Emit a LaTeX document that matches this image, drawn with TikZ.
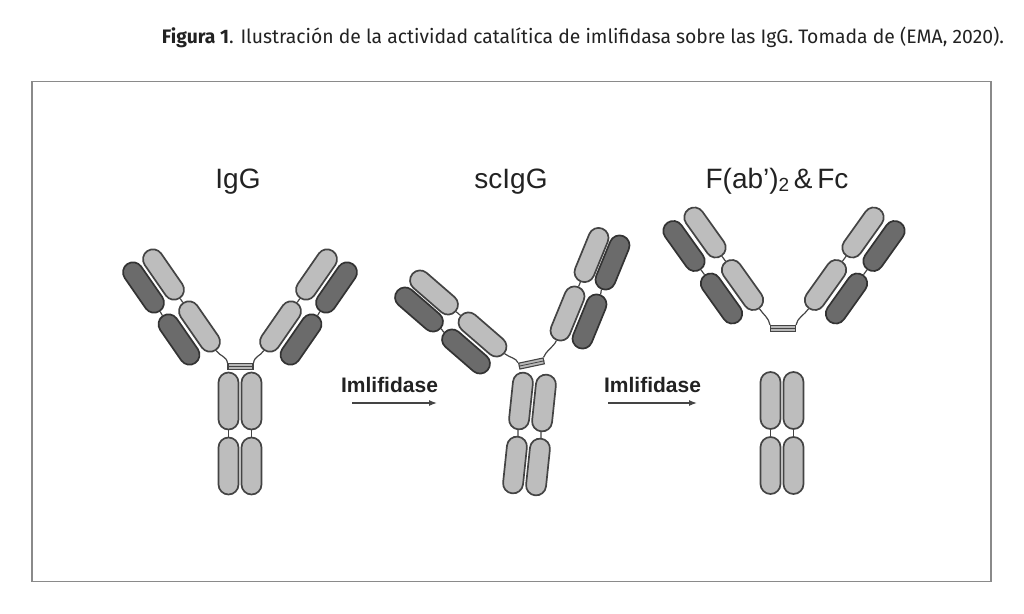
\documentclass[tikz,border=0pt]{standalone}
\usepackage{fontspec}
\setmainfont{Liberation Sans}
\newfontfamily\capfont{Fira Sans}
\usetikzlibrary{shapes.misc,arrows.meta}
\definecolor{lightg}{HTML}{BDBDBD}
\definecolor{darkg}{HTML}{6B6B6B}
\definecolor{pline}{HTML}{444444}
\definecolor{pline2}{HTML}{333333}
\definecolor{barfill}{HTML}{B8B8B8}
\definecolor{framec}{HTML}{8A8A8A}
\definecolor{txtc}{HTML}{222222}
\tikzset{
  pillL/.style={rounded rectangle, draw=pline, fill=lightg, line width=1.7pt,
    minimum width=57pt, minimum height=20pt, inner sep=0pt},
  pillD/.style={pillL, fill=darkg, draw=pline2},
  link/.style={draw=pline, line width=1.2pt},
  hingebar/.style={rectangle, draw=pline, fill=barfill, line width=1.1pt,
    minimum width=25pt, minimum height=6pt, inner sep=0pt},
  title/.style={anchor=base, text=txtc, font=\fontsize{28}{28}\selectfont},
  enz/.style={anchor=base, text=txtc, font=\bfseries\fontsize{21}{21}\selectfont},
  arr/.style={draw=pline, line width=1.3pt, -{Latex[length=8pt,width=6pt]}},
}
\begin{document}
\begin{tikzpicture}[x=1pt,y=-1pt]
\useasboundingbox (0,0) rectangle (1024,613);
% caption
\node[anchor=base, text=txtc, inner sep=0pt] (cap) at (583,43)
  {\resizebox{842pt}{\height}{\capfont\fontsize{19.5}{19.5}\selectfont\textbf{Figura 1}. Ilustración de la actividad catalítica de imlifidasa sobre las IgG. Tomada de (EMA, 2020).}};
% frame
\node[draw=framec, line width=1.5pt, minimum width=959pt, minimum height=500pt, inner sep=0pt] (frame) at (511.5,331.5) {};

% titles
\node[title] (tIgG) at (238,188) {IgG};
\node[title] (tsc) at (511,188) {scIgG};
\node[title] (tfab) at (777,188) {F(ab’){\fontsize{19}{19}\selectfont\raisebox{-3pt}{2}}\,\&\,Fc};

% ===== IgG =====
\node[pillL, rotate=124.7] (gLL1) at (199.5,326.5) {};
\node[pillL, rotate=124.7] (gLL2) at (163.5,274.5) {};
\node[pillD, rotate=124.7] (gLD1) at (179,339.5) {};
\node[pillD, rotate=124.7] (gLD2) at (143.5,287.5) {};
\node[pillL, rotate=55.3] (gRL1) at (280.5,326.5) {};
\node[pillL, rotate=55.3] (gRL2) at (316.5,274.5) {};
\node[pillD, rotate=55.3] (gRD1) at (301,339.5) {};
\node[pillD, rotate=55.3] (gRD2) at (336.5,287.5) {};
\node[hingebar] (gbar) at (240.5,366.5) {};
\draw[pline, line width=0.8pt] (gbar.west) -- (gbar.east);
\node[pillL, rotate=90] (gFU1) at (228.5,401) {};
\node[pillL, rotate=90] (gFU2) at (251.5,401) {};
\node[pillL, rotate=90] (gFB1) at (228.5,466) {};
\node[pillL, rotate=90] (gFB2) at (251.5,466) {};
\draw[link] (gLL1.east) -- (gLL2.west);
\draw[link] (gLD1.east) -- (gLD2.west);
\draw[link] (gRL1.east) -- (gRL2.west);
\draw[link] (gRD1.east) -- (gRD2.west);
\draw[link] (gFU1.west) -- (gFB1.east);
\draw[link] (gFU2.west) -- (gFB2.east);
\draw[link] (gbar.north west) .. controls +(-1,-7) and +(4,6) .. (gLL1.west);
\draw[link] (gbar.north east) .. controls +(1,-7) and +(-4,6) .. (gRL1.west);

% arrow 1
\node[enz] (e1) at (389.5,392) {Imlifidase};
\coordinate (a1s) at (352,403);
\coordinate (a1e) at (437,403);
\draw[arr] (a1s) -- (a1e);

% ===== scIgG =====
\node[pillL, rotate=139.1] (sLL1) at (482.5,334.5) {};
\node[pillL, rotate=139.1] (sLL2) at (434,292.5) {};
\node[pillD, rotate=139.1] (sLD1) at (466,351.5) {};
\node[pillD, rotate=139.1] (sLD2) at (419,309.5) {};
\node[pillL, rotate=67.7] (sRL1) at (567.5,313.5) {};
\node[pillL, rotate=67.7] (sRL2) at (591.5,255) {};
\node[pillD, rotate=67.7] (sRD1) at (589.5,321.5) {};
\node[pillD, rotate=67.7] (sRD2) at (612.5,262.5) {};
\node[hingebar, rotate=12] (sbar) at (531.5,363.5) {};
\draw[pline, line width=0.8pt] (sbar.west) -- (sbar.east);
\node[pillL, rotate=84] (sFU1) at (521,401) {};
\node[pillL, rotate=84] (sFU2) at (544,403) {};
\node[pillL, rotate=84] (sFB1) at (515,465) {};
\node[pillL, rotate=84] (sFB2) at (538,467) {};
\draw[link] (sLL1.east) -- (sLL2.west);
\draw[link] (sLD1.east) -- (sLD2.west);
\draw[link] (sRL1.east) -- (sRL2.west);
\draw[link] (sRD1.east) -- (sRD2.west);
\draw[link] (sFU1.west) -- (sFB1.east);
\draw[link] (sFU2.west) -- (sFB2.east);
\draw[link] (sbar.north west) .. controls +(-2,-5) and +(5,4) .. (sLL1.west);
\draw[link] (sbar.north east) .. controls +(2,-6) and +(-2.5,6) .. (sRL1.west);

% arrow 2
\node[enz] (e2) at (652.5,392) {Imlifidase};
\coordinate (a2s) at (608,403);
\coordinate (a2e) at (697,403);
\draw[arr] (a2s) -- (a2e);

% ===== F(ab')2 & Fc =====
\node[pillL, rotate=125.5] (fLL1) at (742.5,285) {};
\node[pillL, rotate=125.5] (fLL2) at (705,232.5) {};
\node[pillD, rotate=125.5] (fLD1) at (721.5,298.5) {};
\node[pillD, rotate=125.5] (fLD2) at (684,246) {};
\node[pillL, rotate=54.5] (fRL1) at (825.5,285) {};
\node[pillL, rotate=54.5] (fRL2) at (863,232.5) {};
\node[pillD, rotate=54.5] (fRD1) at (846.5,298.5) {};
\node[pillD, rotate=54.5] (fRD2) at (884,246) {};
\node[hingebar] (fbar) at (783,328.5) {};
\draw[pline, line width=0.8pt] (fbar.west) -- (fbar.east);
\node[pillL, rotate=90] (fFU1) at (770.5,400.5) {};
\node[pillL, rotate=90] (fFU2) at (793.5,400.5) {};
\node[pillL, rotate=90] (fFB1) at (770.5,465.5) {};
\node[pillL, rotate=90] (fFB2) at (793.5,465.5) {};
\draw[link] (fLL1.east) -- (fLL2.west);
\draw[link] (fLD1.east) -- (fLD2.west);
\draw[link] (fRL1.east) -- (fRL2.west);
\draw[link] (fRD1.east) -- (fRD2.west);
\draw[link] (fFU1.west) -- (fFB1.east);
\draw[link] (fFU2.west) -- (fFB2.east);
\draw[link] (fbar.north west) .. controls +(-1,-7) and +(4,6) .. (fLL1.west);
\draw[link] (fbar.north east) .. controls +(1,-7) and +(-4,6) .. (fRL1.west);
\end{tikzpicture}
\end{document}
